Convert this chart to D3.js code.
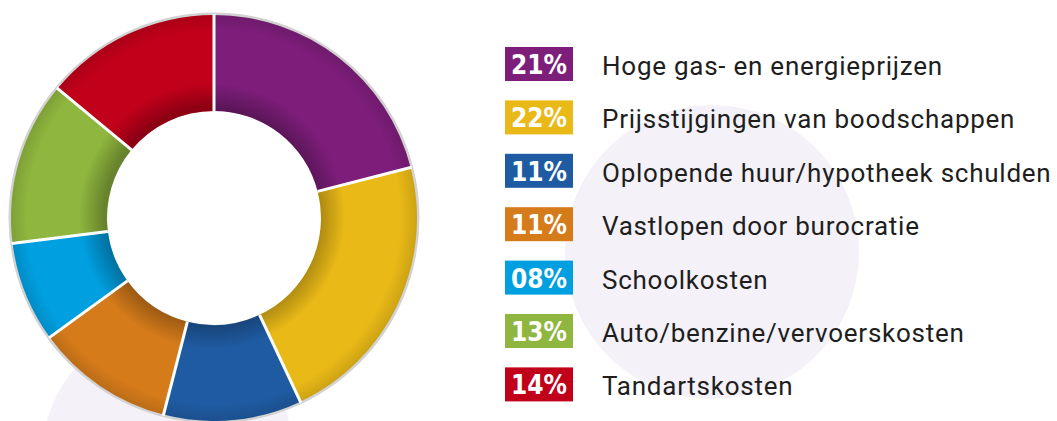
<!DOCTYPE html>
<html>
<head>
<meta charset="utf-8">
<script src="https://cdn.jsdelivr.net/npm/d3@7"></script>
<style>
  html, body { margin: 0; padding: 0; background: #fff; }
  svg { display: block; }
</style>
</head>
<body>
<div id="chart"></div>
<script>
const categories = [
  'Hoge gas- en energieprijzen',
  'Prijsstijgingen van boodschappen',
  'Oplopende huur/hypotheek schulden',
  'Vastlopen door burocratie',
  'Schoolkosten',
  'Auto/benzine/vervoerskosten',
  'Tandartskosten',
];
const values = [21, 22, 11, 11, 8, 13, 14];
const valueLabels = ['21%', '22%', '11%', '11%', '08%', '13%', '14%'];
const colors = ['#7e1e7b', '#e9b917', '#1f5ba2', '#d57b1a', '#009fe0', '#8fb63e', '#c1001a'];

const W = 1057, H = 421;
const cx = 214, cy = 218, outerR = 203, innerR = 107;

const svg = d3.select('#chart').append('svg').attr('width', W).attr('height', H);
const defs = svg.append('defs');

// soft background circles
svg.append('circle').attr('cx', 712).attr('cy', 252).attr('r', 147).attr('fill', '#f4f2f8');
svg.append('circle').attr('cx', 168).attr('cy', 452).attr('r', 125).attr('fill', '#f4f2f8');

// shading: inner shadow near the hole, slight darkening at the outer rim
const shade = defs.append('radialGradient').attr('id', 'shade')
  .attr('gradientUnits', 'userSpaceOnUse').attr('cx', 0).attr('cy', 0).attr('r', outerR)
  .attr('fx', -6).attr('fy', -6);
[[0, 0.28], [innerR / outerR, 0.28], [(innerR + 26) / outerR, 0], [0.92, 0], [1, 0.12]].forEach(([o, a]) => {
  shade.append('stop').attr('offset', o).attr('stop-color', '#000').attr('stop-opacity', a);
});

const g = svg.append('g').attr('transform', `translate(${cx},${cy})`);

const ring = d3.arc().innerRadius(innerR).outerRadius(outerR);

// gray rim
g.append('path')
  .attr('d', d3.arc().innerRadius(outerR - 2).outerRadius(outerR + 2.5)({ startAngle: 0, endAngle: 2 * Math.PI }))
  .attr('fill', '#d2d2d2');

const pie = d3.pie().sort(null).value(d => d);
const arcs = pie(values);

g.selectAll('path.slice').data(arcs).enter().append('path')
  .attr('class', 'slice')
  .attr('d', ring)
  .attr('fill', (d, i) => colors[i]);

g.append('path')
  .attr('d', ring({ startAngle: 0, endAngle: 2 * Math.PI }))
  .attr('fill', 'url(#shade)');

// white separators
g.selectAll('line.sep').data(arcs).enter().append('line')
  .attr('class', 'sep')
  .attr('x1', d => innerR * Math.sin(d.startAngle))
  .attr('y1', d => -innerR * Math.cos(d.startAngle))
  .attr('x2', d => (outerR + 1) * Math.sin(d.startAngle))
  .attr('y2', d => -(outerR + 1) * Math.cos(d.startAngle))
  .attr('stroke', '#fff').attr('stroke-width', 3);

// legend
const y = d3.scaleBand().domain(d3.range(categories.length)).range([47, 47 + 53.4 * 7]).paddingInner(0);
const legend = svg.append('g');
const rows = legend.selectAll('g.row').data(categories).enter().append('g')
  .attr('class', 'row')
  .attr('transform', (d, i) => `translate(505,${y(i)})`);

rows.append('rect').attr('width', 68).attr('height', 34).attr('fill', (d, i) => colors[i]);
rows.append('text')
  .attr('x', 34).attr('y', 27)
  .attr('text-anchor', 'middle')
  .attr('fill', '#fff')
  .attr('font-family', '"DejaVu Sans Condensed", "DejaVu Sans", sans-serif')
  .attr('font-weight', 700)
  .attr('font-size', 26)
  .text((d, i) => valueLabels[i]);
rows.append('text')
  .attr('x', 97).attr('y', 28)
  .attr('fill', '#1e1e1e')
  .attr('font-family', 'Roboto, sans-serif')
  .attr('font-size', 26)
  .attr('letter-spacing', 0.75)
  .text(d => d);
</script>
</body>
</html>
